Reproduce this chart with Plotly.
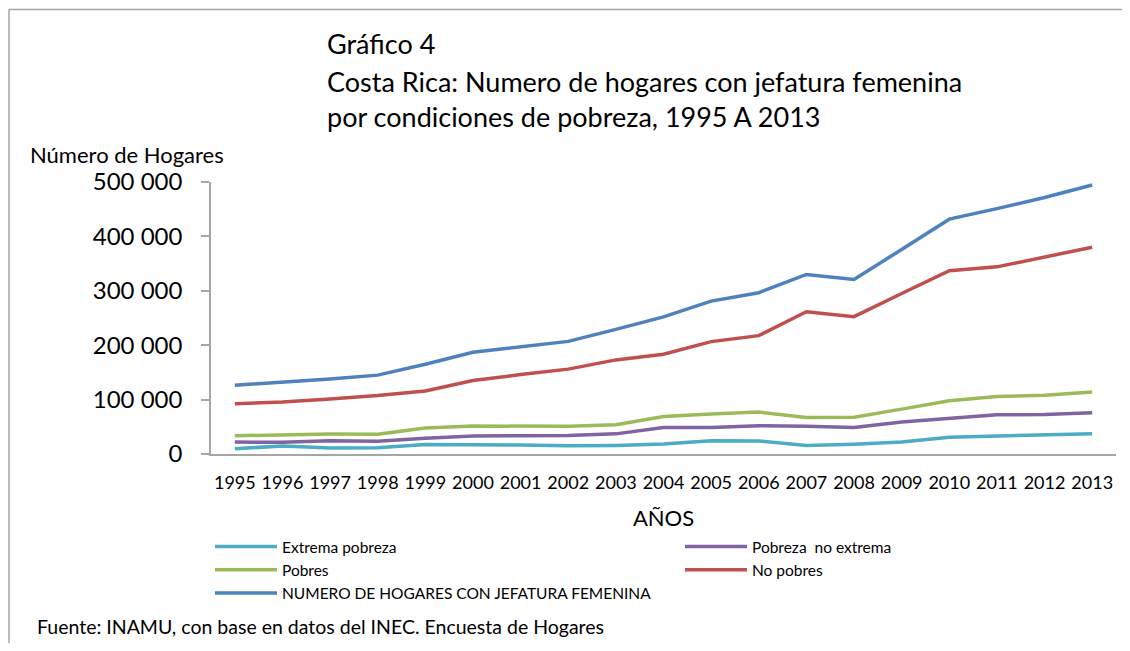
import plotly.graph_objects as go

# data
years = [1995, 1996, 1997, 1998, 1999, 2000, 2001, 2002, 2003, 2004,
         2005, 2006, 2007, 2008, 2009, 2010, 2011, 2012, 2013]
extrema = [9700, 14700, 11000, 11700, 17600, 17600, 16500, 15200, 15800, 18300,
           24400, 24000, 15800, 18000, 22000, 31000, 33000, 35000, 37300]
no_extrema = [22000, 21500, 24400, 23500, 29000, 33000, 33500, 34000, 37000, 48800,
              48800, 52000, 51000, 48800, 58700, 66000, 72000, 72500, 75800]
pobres = [33600, 35500, 36700, 36500, 47700, 51400, 51000, 51000, 53800, 69000,
          73400, 77000, 67000, 67500, 82500, 98000, 105700, 108000, 114000]
no_pobres = [92300, 95500, 101000, 107500, 116000, 135000, 146000, 156000, 173000, 183500,
             206600, 217600, 261600, 252500, 295000, 337000, 344000, 362000, 380000]
total = [126600, 132000, 138000, 145000, 165000, 187000, 197000, 207000, 229000, 252000,
         281000, 296500, 330000, 321000, 376000, 431700, 451000, 471500, 494600]

series = [
    ("Extrema pobreza", extrema, "#4bacc6"),
    ("Pobreza  no extrema", no_extrema, "#8064a2"),
    ("Pobres", pobres, "#9bbb59"),
    ("No pobres", no_pobres, "#c0504d"),
    ("NUMERO DE HOGARES CON JEFATURA FEMENINA", total, "#4f81bd"),
]

# the html page keeps the default 8px body margin, so the figure is
# shrunk and every page position is shifted by OFF
OFF = 8
W, H = 1130 - 2 * OFF, 651 - 2 * OFF
PLOT_L, PLOT_R, PLOT_T, PLOT_B = 211, 1116, 182, 454   # page pixels
L, T = PLOT_L - OFF, PLOT_T - OFF
R, B = W - (PLOT_R - OFF), H - (PLOT_B - OFF)
FONT = "Lato"


def px_x(x):
    return (x - OFF - L) / (W - L - R)


def px_y(y):
    return (H - B - (y - OFF)) / (H - B - T)


fig = go.Figure()
for name, vals, col in series:
    fig.add_trace(go.Scatter(x=years, y=vals, name=name, mode="lines",
                             line=dict(color=col, width=3.5)))

fig.update_layout(
    width=W, height=H,
    margin=dict(l=L, r=R, t=T, b=B, autoexpand=False),
    paper_bgcolor="white", plot_bgcolor="white",
    separators=", ",
    font=dict(family=FONT, color="black"),
    showlegend=True,
    legend=dict(orientation="h", x=px_x(210), y=px_y(530), xanchor="left", yanchor="top",
                font=dict(size=15.5, family=FONT), entrywidth=393, tracegroupgap=0,
                itemwidth=62, bgcolor="rgba(0,0,0,0)"),
)

fig.update_xaxes(range=[1994.5, 2013.5], tickmode="array", tickvals=years,
                 ticktext=[str(y) for y in years], showgrid=False, zeroline=False,
                 showline=True, linecolor="#a6a6a6", linewidth=1.5, ticks="",
                 tickfont=dict(size=18, family=FONT), ticklabelstandoff=12,
                 automargin=False,
                 title=dict(text="AÑOS", font=dict(size=22, family=FONT), standoff=18))
fig.update_yaxes(range=[0, 500000], dtick=100000, tickformat=",d", showgrid=False,
                 zeroline=False, showline=True, linecolor="#a6a6a6", linewidth=1.5,
                 ticks="outside", ticklen=8, tickcolor="#a6a6a6", tickwidth=1.5,
                 automargin=False,
                 tickfont=dict(size=24, family=FONT), ticklabelstandoff=14)

# titles and notes (page pixels)
notes = [
    ("Gráfico 4", 325, 43, 27),
    ("Costa Rica: Numero de hogares con jefatura femenina", 325, 81, 27),
    ("por condiciones de pobreza, 1995 A 2013", 325, 117, 27),
    ("Número de Hogares", 28, 155, 22),
    ("Fuente: INAMU, con base en datos del INEC. Encuesta de Hogares", 35, 626, 19.5),
]
for text, xp, yp, size in notes:
    fig.add_annotation(text=text, x=px_x(xp), y=px_y(yp), xref="paper", yref="paper",
                       xanchor="left", yanchor="middle", showarrow=False,
                       font=dict(size=size, family=FONT, color="black"))

# chart frame (top and left edges visible)
fig.add_shape(type="line", xref="paper", yref="paper", x0=px_x(9), x1=px_x(1140),
              y0=px_y(9.5), y1=px_y(9.5), line=dict(color="#a6a6a6", width=1.5))
fig.add_shape(type="line", xref="paper", yref="paper", x0=px_x(9), x1=px_x(9),
              y0=px_y(9.5), y1=px_y(660), line=dict(color="#a6a6a6", width=1.5))

fig.write_html("out.html")
